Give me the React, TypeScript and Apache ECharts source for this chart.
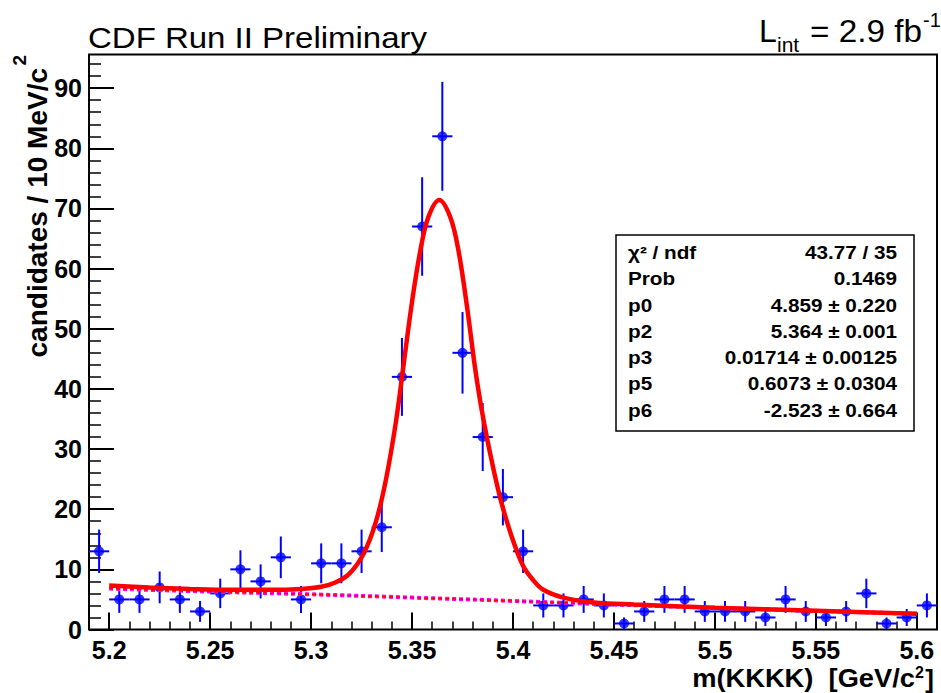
import React, { useEffect, useRef } from "react";
import * as echarts from "echarts";

// ---- data ----
const binCenters = [
  5.195, 5.205, 5.215, 5.225, 5.235, 5.245, 5.255, 5.265, 5.275, 5.285,
  5.295, 5.305, 5.315, 5.325, 5.335, 5.345, 5.355, 5.365, 5.375, 5.385,
  5.395, 5.405, 5.415, 5.425, 5.435, 5.445, 5.455, 5.465, 5.475, 5.485,
  5.495, 5.505, 5.515, 5.525, 5.535, 5.545, 5.555, 5.565, 5.575, 5.585,
  5.595, 5.605,
];
const counts = [
  13, 5, 5, 7, 5, 3, 6, 10, 8, 12,
  5, 11, 11, 13, 17, 42, 67, 82, 46, 32,
  22, 13, 4, 4, 5, 4, 1, 3, 5, 5,
  3, 3, 3, 2, 5, 3, 2, 3, 6, 1,
  2, 4,
];
const binHalfWidth = 0.005;

// fit curve (total)
const fitX = [
  5.2, 5.22, 5.24, 5.26, 5.28, 5.295, 5.305, 5.312, 5.319, 5.326,
  5.332, 5.337, 5.342, 5.346, 5.35, 5.354, 5.358, 5.3635, 5.369, 5.373,
  5.3775, 5.381, 5.3845, 5.3886, 5.3935, 5.3993, 5.4051, 5.41, 5.415, 5.425,
  5.44, 5.46, 5.5, 5.55, 5.6,
];
const fitY = [
  7.3, 7.0, 6.75, 6.6, 6.6, 6.75, 7.1, 7.8, 9.3, 12.6,
  17.8, 24.8, 34.5, 44.5, 54.5, 62.8, 68.5, 71.4, 68.5, 63,
  53, 44, 36.5, 29.4, 22.1, 15.5, 10.5, 8.2, 6.6, 5.3,
  4.5, 4.15, 3.62, 3.1, 2.6,
];
// background component (dashed)
const bkgX = [5.2, 5.25, 5.3, 5.35, 5.4, 5.45, 5.5, 5.55, 5.6];
const bkgY = [6.8, 6.3, 5.85, 5.3, 4.75, 4.15, 3.6, 3.1, 2.6];

const xTickLabels = ["5.2", "5.25", "5.3", "5.35", "5.4", "5.45", "5.5", "5.55", "5.6"];
const yTickLabels = ["0", "10", "20", "30", "40", "50", "60", "70", "80", "90"];
const xMinorLabels = [
  "5.19", "5.2", "5.21", "5.22", "5.23", "5.24", "5.25", "5.26", "5.27", "5.28", "5.29",
  "5.3", "5.31", "5.32", "5.33", "5.34", "5.35", "5.36", "5.37", "5.38", "5.39",
  "5.4", "5.41", "5.42", "5.43", "5.44", "5.45", "5.46", "5.47", "5.48", "5.49",
  "5.5", "5.51", "5.52", "5.53", "5.54", "5.55", "5.56", "5.57", "5.58", "5.59", "5.6",
];
const yMinorLabels = [
  "0", "2", "4", "6", "8", "10", "12", "14", "16", "18", "20", "22", "24", "26", "28",
  "30", "32", "34", "36", "38", "40", "42", "44", "46", "48", "50", "52", "54", "56", "58",
  "60", "62", "64", "66", "68", "70", "72", "74", "76", "78", "80", "82", "84", "86", "88",
  "90", "92", "94",
];

const xMin = 5.19;
const xMax = 5.61;
const yMin = 0;
const yMax = 95.6;

const statNames = ["χ² / ndf", "Prob", "p0", "p2", "p3", "p5", "p6"];
const statValues = [
  "43.77 / 35",
  "0.1469",
  "4.859 ± 0.220",
  "5.364 ± 0.001",
  "0.01714 ± 0.00125",
  "0.6073 ± 0.0304",
  "-2.523 ± 0.664",
];

const FONT = '"Liberation Sans", Arial, Helvetica, sans-serif';

export default function App() {
  const ref = useRef<HTMLDivElement>(null);

  useEffect(() => {
    if (!ref.current) return;
    const chart = echarts.init(ref.current, undefined, { renderer: "svg" });

    const xTickValues = xTickLabels.map(Number);
    const yTickValues = yTickLabels.map(Number);
    const xMinorValues = xMinorLabels.map(Number);
    const yMinorValues = yMinorLabels.map(Number);

    const errData = binCenters.map((x, i) => [x, counts[i], Math.sqrt(counts[i])]);
    const pointData = binCenters.map((x, i) => [x, counts[i]]);
    const fitData = fitX.map((x, i) => [x, fitY[i]]);
    const bkgData = bkgX.map((x, i) => [x, bkgY[i]]);

    const statTexts: any[] = [];
    statNames.forEach((n, i) => {
      const y = 252.5 + i * 26.3;
      statTexts.push({
        type: "text",
        x: 628,
        y,
        scaleX: 1.15,
        z: 110,
        style: {
          text: n,
          fontSize: 18,
          fontWeight: "bold",
          fontFamily: FONT,
          fill: "#000",
          align: "left",
          verticalAlign: "middle",
        },
      });
      statTexts.push({
        type: "text",
        x: 897,
        y,
        scaleX: 1.15,
        z: 110,
        style: {
          text: statValues[i],
          fontSize: 18,
          fontWeight: "bold",
          fontFamily: FONT,
          fill: "#000",
          align: "right",
          verticalAlign: "middle",
        },
      });
    });

    const option: any = {
      animation: false,
      backgroundColor: "#fff",
      grid: {
        left: 89,
        right: 4,
        top: 54.5,
        bottom: 63.5,
        show: true,
        borderColor: "#000",
        borderWidth: 2,
        backgroundColor: "#fff",
        containLabel: false,
      },
      xAxis: [
        {
          type: "value",
          min: xMin,
          max: xMax,
          position: "bottom",
          axisLine: { show: false },
          splitLine: { show: false },
          axisTick: {
            show: true,
            inside: true,
            length: 17,
            customValues: xTickValues,
            lineStyle: { color: "#000", width: 2 },
          },
          axisLabel: {
            show: true,
            customValues: xTickValues,
            formatter: (v: number) => {
              const i = xTickValues.findIndex((t) => Math.abs(t - v) < 1e-6);
              return i >= 0 ? xTickLabels[i] : "";
            },
            fontSize: 25,
            fontWeight: "bold",
            fontFamily: FONT,
            color: "#000",
            margin: 8,
          },
        },
        {
          type: "value",
          min: xMin,
          max: xMax,
          position: "bottom",
          axisLine: { show: false },
          splitLine: { show: false },
          axisLabel: { show: false },
          axisTick: {
            show: true,
            inside: true,
            length: 8,
            customValues: xMinorValues,
            lineStyle: { color: "#000", width: 1.5 },
          },
        },
      ],
      yAxis: [
        {
          type: "value",
          min: yMin,
          max: yMax,
          position: "left",
          axisLine: { show: false },
          splitLine: { show: false },
          axisTick: {
            show: true,
            inside: true,
            length: 25,
            customValues: yTickValues,
            lineStyle: { color: "#000", width: 2 },
          },
          axisLabel: {
            show: true,
            customValues: yTickValues,
            formatter: (v: number) => {
              const i = yTickValues.findIndex((t) => Math.abs(t - v) < 1e-6);
              return i >= 0 ? yTickLabels[i] : "";
            },
            fontSize: 25,
            fontWeight: "bold",
            fontFamily: FONT,
            color: "#000",
            margin: 7,
          },
        },
        {
          type: "value",
          min: yMin,
          max: yMax,
          position: "left",
          axisLine: { show: false },
          splitLine: { show: false },
          axisLabel: { show: false },
          axisTick: {
            show: true,
            inside: true,
            length: 12,
            customValues: yMinorValues,
            lineStyle: { color: "#000", width: 1.5 },
          },
        },
      ],
      series: [
        {
          type: "custom",
          xAxisIndex: 0,
          yAxisIndex: 0,
          data: errData,
          encode: { x: 0, y: 1 },
          z: 2,
          silent: true,
          renderItem: (params: any, api: any) => {
            const x = api.value(0);
            const y = api.value(1);
            const e = api.value(2);
            const top = api.coord([x, y + e]);
            const bot = api.coord([x, y - e]);
            const l = api.coord([x - binHalfWidth, y]);
            const r = api.coord([x + binHalfWidth, y]);
            return {
              type: "group",
              children: [
                {
                  type: "line",
                  shape: { x1: top[0], y1: top[1], x2: bot[0], y2: bot[1] },
                  style: { stroke: "#0000ff", lineWidth: 2 },
                },
                {
                  type: "line",
                  shape: { x1: l[0], y1: l[1], x2: r[0], y2: r[1] },
                  style: { stroke: "#0000ff", lineWidth: 2 },
                },
              ],
            };
          },
        },
        {
          type: "scatter",
          data: pointData,
          symbol: "circle",
          symbolSize: 10,
          itemStyle: { color: "#0000ff" },
          z: 3,
          silent: true,
        },
        {
          type: "line",
          data: bkgData,
          smooth: true,
          showSymbol: false,
          lineStyle: { color: "#ff00ff", width: 4, type: [4, 3] },
          z: 4,
          silent: true,
        },
        {
          type: "line",
          data: bkgData,
          smooth: true,
          showSymbol: false,
          lineStyle: { color: "#ff0000", width: 1.5, type: [4, 3] },
          z: 4,
          silent: true,
        },
        {
          type: "line",
          data: fitData,
          smooth: 0.35,
          showSymbol: false,
          lineStyle: { color: "#ff0000", width: 4.5 },
          z: 5,
          silent: true,
        },
      ],
      graphic: [
        {
          type: "text",
          x: 88,
          y: 37.5,
          scaleX: 1.1,
          style: {
            text: "CDF Run II Preliminary",
            fontSize: 30,
            fontFamily: FONT,
            fill: "#000",
            align: "left",
            verticalAlign: "middle",
          },
        },
        // L_int = 2.9 fb^-1
        {
          type: "text",
          x: 759,
          y: 31,
          style: {
            text: "L",
            fontSize: 32,
            fontFamily: FONT,
            fill: "#000",
            align: "left",
            verticalAlign: "middle",
          },
        },
        {
          type: "text",
          x: 777,
          y: 44.5,
          style: {
            text: "int",
            fontSize: 21,
            fontFamily: FONT,
            fill: "#000",
            align: "left",
            verticalAlign: "middle",
          },
        },
        {
          type: "text",
          x: 922,
          y: 31,
          scaleX: 1.04,
          style: {
            text: "= 2.9 fb",
            fontSize: 32,
            fontFamily: FONT,
            fill: "#000",
            align: "right",
            verticalAlign: "middle",
          },
        },
        {
          type: "text",
          x: 923,
          y: 20,
          style: {
            text: "-1",
            fontSize: 20,
            fontFamily: FONT,
            fill: "#000",
            align: "left",
            verticalAlign: "middle",
          },
        },
        // x axis title
        {
          type: "text",
          x: 915,
          y: 678.7,
          scaleX: 1.05,
          style: {
            text: "m(KKKK)  [GeV/c",
            fontSize: 26,
            fontWeight: "bold",
            fontFamily: FONT,
            fill: "#000",
            align: "right",
            verticalAlign: "middle",
          },
        },
        {
          type: "text",
          x: 915,
          y: 672.5,
          style: {
            text: "2",
            fontSize: 16,
            fontWeight: "bold",
            fontFamily: FONT,
            fill: "#000",
            align: "left",
            verticalAlign: "middle",
          },
        },
        {
          type: "text",
          x: 934,
          y: 678.7,
          style: {
            text: "]",
            fontSize: 26,
            fontWeight: "bold",
            fontFamily: FONT,
            fill: "#000",
            align: "right",
            verticalAlign: "middle",
          },
        },
        // y axis title (rotated)
        {
          type: "text",
          x: 37,
          y: 68,
          rotation: Math.PI / 2,
          style: {
            text: "candidates / 10 MeV/c",
            fontSize: 28,
            fontWeight: "bold",
            fontFamily: FONT,
            fill: "#000",
            align: "right",
            verticalAlign: "middle",
          },
        },
        {
          type: "text",
          x: 19,
          y: 55,
          rotation: Math.PI / 2,
          style: {
            text: "2",
            fontSize: 19,
            fontWeight: "bold",
            fontFamily: FONT,
            fill: "#000",
            align: "right",
            verticalAlign: "middle",
          },
        },
        // stats box
        {
          type: "rect",
          z: 100,
          shape: { x: 616, y: 235, width: 298, height: 196 },
          style: { fill: "#fff", stroke: "#000", lineWidth: 1.5 },
        },
        ...statTexts,
      ],
    };

    chart.setOption(option);
    return () => chart.dispose();
  }, []);

  return (
    <div
      ref={ref}
      style={{ position: "fixed", left: 0, top: 0, width: 941, height: 693, background: "#fff" }}
    />
  );
}
